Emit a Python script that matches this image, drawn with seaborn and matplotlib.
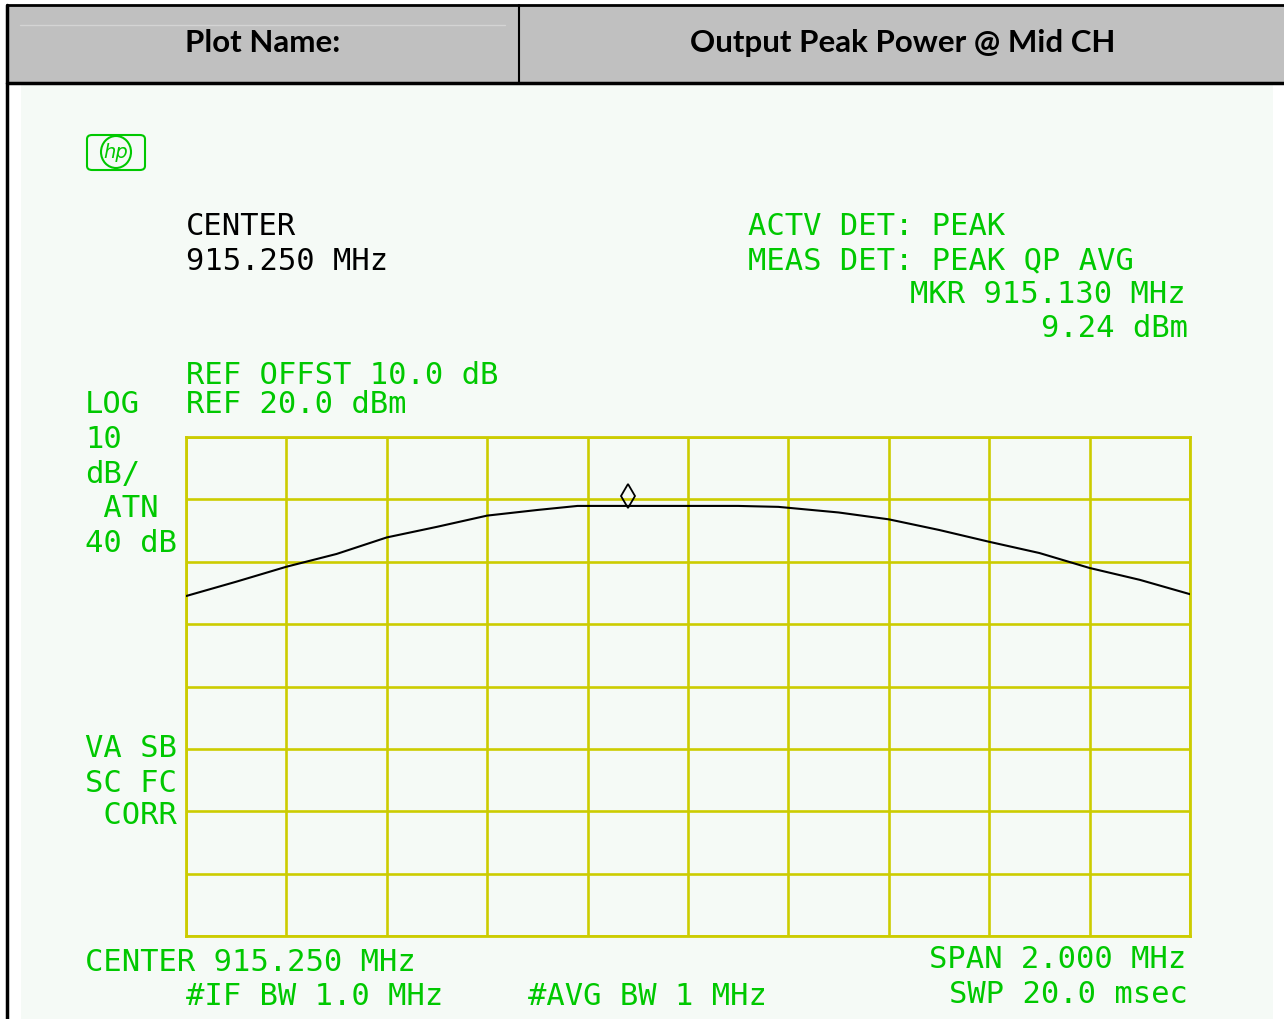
import matplotlib
matplotlib.use("Agg")
import matplotlib.pyplot as plt
import seaborn as sns
import pandas as pd
from matplotlib.patches import Rectangle, FancyBboxPatch, Ellipse
from matplotlib.lines import Line2D
from matplotlib import transforms

# ---------------- data ----------------
freq_mhz = [914.25, 914.35, 914.45, 914.55, 914.65, 914.75, 914.85, 914.95,
            915.03, 915.15, 915.25, 915.35, 915.43, 915.55, 915.65, 915.75,
            915.85, 915.95, 916.05, 916.15, 916.25]
level_dbm = [-5.5, -3.2, -0.8, 1.25, 3.9, 5.6, 7.4, 8.3,
             8.95, 8.95, 8.95, 8.95, 8.8, 7.9, 6.8, 5.1,
             3.2, 1.4, -1.0, -2.9, -5.2]
marker_freq = 915.130
marker_level = 9.24
center_mhz = 915.250
span_mhz = 2.000
ref_level = 20.0
db_per_div = 10
n_vdiv = 8
n_hdiv = 10

header_left = "Plot Name:"
header_right = "Output Peak Power @ Mid CH"

W, H = 1284, 1019
GREEN = "#00c800"
YELLOW = "#cccc00"
BG = "#f5faf6"
MONO = "DejaVu Sans Mono"

sns.set_theme(style="white")
plt.rcParams["font.family"] = ["DejaVu Sans"]

fig = plt.figure(figsize=(W / 100, H / 100), dpi=100)
fig.patch.set_facecolor("white")


def fx(x):
    return x / W


def fy(y):
    return 1 - y / H


def frect(x0, y0, x1, y1, **kw):
    fig.patches.append(Rectangle((fx(x0), fy(y1)), fx(x1) - fx(x0), fy(y0) - fy(y1),
                                 transform=fig.transFigure, **kw))


def fline(x0, y0, x1, y1, **kw):
    fig.lines.append(Line2D([fx(x0), fx(x1)], [fy(y0), fy(y1)],
                            transform=fig.transFigure, **kw))


# backgrounds
frect(21, 84, 1273, 1019, facecolor=BG, edgecolor="none", zorder=-5)
frect(7, 5, 1284, 83, facecolor="#c0c0c0", edgecolor="none", zorder=-5)
fline(20, 25, 505, 25, color="#d4d4d4", lw=1, zorder=-4)
fline(7, 5, 1284, 5, color="black", lw=2.0, zorder=2)
fline(7, 82.5, 1284, 82.5, color="black", lw=2.5, zorder=2)
fline(7, 5, 7, 1019, color="black", lw=2.5, zorder=2)
fline(519, 5, 519, 82.5, color="black", lw=1.5, zorder=2)

fig.text(fx(263), fy(43), header_left, ha="center", va="center",
         fontsize=22.5, fontweight="bold", family="Lato", color="black")
fig.text(fx(903), fy(43), header_right, ha="center", va="center",
         fontsize=22.5, fontweight="bold", family="Lato", color="black")

# ---------------- spectrum axes ----------------
ax = fig.add_axes([fx(186), fy(936), fx(1190) - fx(186), fy(437) - fy(936)])
ax.set_facecolor("none")
x0 = center_mhz - span_mhz / 2
x1 = center_mhz + span_mhz / 2
y1 = ref_level
y0 = ref_level - db_per_div * n_vdiv
ax.set_xlim(x0, x1)
ax.set_ylim(y0, y1)
ax.set_xticks([x0 + i * span_mhz / n_hdiv for i in range(n_hdiv + 1)])
ax.set_yticks([y0 + i * db_per_div for i in range(n_vdiv + 1)])
ax.grid(True, color=YELLOW, lw=1.9)
ax.tick_params(length=0, labelbottom=False, labelleft=False)
for s in ax.spines.values():
    s.set_color(YELLOW)
    s.set_linewidth(2.0)

df = pd.DataFrame({"freq": freq_mhz, "level": level_dbm})
sns.lineplot(data=df, x="freq", y="level", color="black", lw=1.5, ax=ax,
             estimator=None, sort=False, zorder=3)
ax.set_xlabel("")
ax.set_ylabel("")

offset = transforms.ScaledTranslation(0, 8 / 100, fig.dpi_scale_trans)
ax.plot([marker_freq], [marker_level], marker="d", ms=12, mfc="none",
        mec="black", mew=1.3, ls="none", transform=ax.transData + offset, zorder=4)

# ---------------- annotation texts ----------------
FS = 22


def t(x, y, s, color=GREEN, ha="left"):
    fig.text(fx(x), fy(y), s, ha=ha, va="baseline", fontsize=FS,
             family=MONO, color=color)


t(186, 235, "CENTER", color="black")
t(186, 270, f"{center_mhz:.3f} MHz", color="black")
t(748, 235, "ACTV DET: PEAK")
t(748, 269, "MEAS DET: PEAK QP AVG")
t(1186, 303, f"MKR {marker_freq:.3f} MHz", ha="right")
t(1188, 337, f"{marker_level:.2f} dBm", ha="right")
t(186, 384, "REF OFFST 10.0 dB")
t(85, 413, "LOG")
t(186, 413, f"REF {ref_level:.1f} dBm")
t(85, 448, f"{db_per_div}")
t(85, 483, "dB/")
t(85, 517, " ATN")
t(85, 552, "40 dB")
t(85, 757, "VA SB")
t(85, 792, "SC FC")
t(85, 824, " CORR")
t(85, 971, f"CENTER {center_mhz:.3f} MHz")
t(186, 1005, "#IF BW 1.0 MHz")
t(528, 1005, "#AVG BW 1 MHz")
t(1186, 968, f"SPAN {span_mhz:.3f} MHz", ha="right")
t(1188, 1003, "SWP 20.0 msec", ha="right")

# hp logo
fig.patches.append(FancyBboxPatch((fx(87), fy(170)), fx(145) - fx(87), fy(135) - fy(170),
                                  boxstyle="round,pad=0,rounding_size=0.004",
                                  transform=fig.transFigure, facecolor="none",
                                  edgecolor=GREEN, lw=1.5))
fig.patches.append(Ellipse((fx(116), fy(152)), 30 / W, 32 / H,
                           transform=fig.transFigure,
                           facecolor=BG, edgecolor=GREEN, lw=1.5))
fig.text(fx(116), fy(152), "hp", ha="center", va="center", fontsize=14,
         fontstyle="italic", color=GREEN, family="DejaVu Sans")

fig.savefig("out.png", dpi=100)
